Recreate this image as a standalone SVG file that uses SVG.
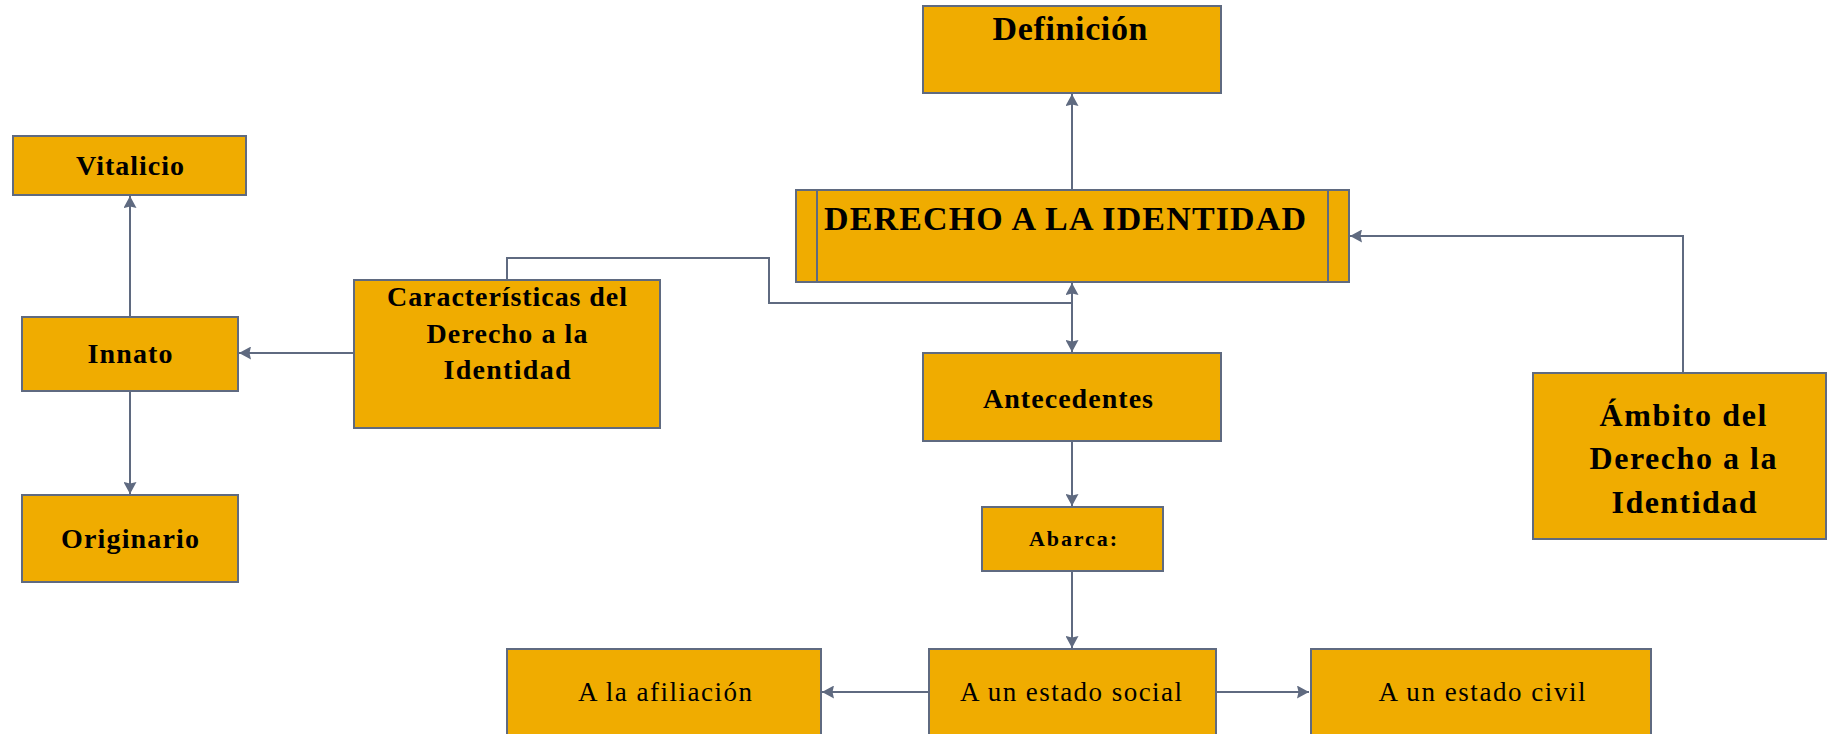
<svg xmlns="http://www.w3.org/2000/svg" width="1827" height="734" viewBox="0 0 1827 734">
<style>
.box{fill:#F0AC00;stroke:#5F6A80;stroke-width:2}
.ln{fill:none;stroke:#5F6A80;stroke-width:2}
.b{font-family:"Liberation Serif","Times New Roman",serif;font-weight:bold;fill:#000;text-anchor:middle}
.r{font-family:"Liberation Serif","Times New Roman",serif;fill:#000;text-anchor:middle;font-size:27px}
</style>
<defs>
<marker id="ah" viewBox="0 0 12 13" refX="12" refY="6.5" markerWidth="12" markerHeight="13" markerUnits="userSpaceOnUse" orient="auto">
<path d="M0,0 L12,6.5 L0,13 L1.5,6.5 z" fill="#5F6A80"/>
</marker>
</defs>
<rect width="1827" height="734" fill="#fff"/>
<g id="connectors">
<path class="ln" d="M1072,190 V94" marker-end="url(#ah)"/>
<path class="ln" d="M1683,373 V236 H1350" marker-end="url(#ah)"/>
<path class="ln" d="M507,280 V258 H769 V303 H1072 V283" marker-end="url(#ah)"/>
<path class="ln" d="M1072,283 V352" marker-end="url(#ah)"/>
<path class="ln" d="M1072,441 V506" marker-end="url(#ah)"/>
<path class="ln" d="M1072,571 V648" marker-end="url(#ah)"/>
<path class="ln" d="M929,692 H822" marker-end="url(#ah)"/>
<path class="ln" d="M1216,692 H1309" marker-end="url(#ah)"/>
<path class="ln" d="M354,353 H239" marker-end="url(#ah)"/>
<path class="ln" d="M130,317 V196" marker-end="url(#ah)"/>
<path class="ln" d="M130,391 V494" marker-end="url(#ah)"/>
</g>
<g id="definicion">
<rect class="box" x="923" y="6" width="298" height="87"/>
<text class="b" x="1070" y="40" font-size="34" textLength="155">Definición</text>
</g>
<g id="derecho">
<rect class="box" x="796" y="190" width="553" height="92"/>
<line class="ln" x1="817" y1="190" x2="817" y2="282"/>
<line class="ln" x1="1328" y1="190" x2="1328" y2="282"/>
<text class="b" x="1065" y="230" font-size="34" textLength="482">DERECHO A LA IDENTIDAD</text>
</g>
<g id="vitalicio">
<rect class="box" x="13" y="136" width="233" height="59"/>
<text class="b" x="130" y="175" font-size="28" textLength="108">Vitalicio</text>
</g>
<g id="innato">
<rect class="box" x="22" y="317" width="216" height="74"/>
<text class="b" x="130" y="363" font-size="28" textLength="85">Innato</text>
</g>
<g id="originario">
<rect class="box" x="22" y="495" width="216" height="87"/>
<text class="b" x="130" y="548" font-size="28" textLength="138">Originario</text>
</g>
<g id="caracteristicas">
<rect class="box" x="354" y="280" width="306" height="148"/>
<text class="b" x="507" y="306" font-size="28" textLength="240">Características del</text>
<text class="b" x="507" y="343" font-size="28" textLength="161">Derecho a la</text>
<text class="b" x="507" y="379" font-size="28" textLength="127">Identidad</text>
</g>
<g id="antecedentes">
<rect class="box" x="923" y="353" width="298" height="88"/>
<text class="b" x="1068" y="408" font-size="28" textLength="170">Antecedentes</text>
</g>
<g id="abarca">
<rect class="box" x="982" y="507" width="181" height="64"/>
<text class="b" x="1073" y="546" font-size="22" textLength="88">Abarca:</text>
</g>
<g id="ambito">
<rect class="box" x="1533" y="373" width="293" height="166"/>
<text class="b" x="1683" y="426" font-size="32" textLength="167">Ámbito del</text>
<text class="b" x="1683" y="469" font-size="32" textLength="187">Derecho a la</text>
<text class="b" x="1684" y="513" font-size="32" textLength="145">Identidad</text>
</g>
<g id="afiliacion">
<rect class="box" x="507" y="649" width="314" height="95"/>
<text class="r" x="665" y="701" textLength="174">A la afiliación</text>
</g>
<g id="social">
<rect class="box" x="929" y="649" width="287" height="95"/>
<text class="r" x="1071" y="701" textLength="222">A un estado social</text>
</g>
<g id="civil">
<rect class="box" x="1311" y="649" width="340" height="95"/>
<text class="r" x="1482" y="701" textLength="207">A un estado civil</text>
</g>
</svg>
